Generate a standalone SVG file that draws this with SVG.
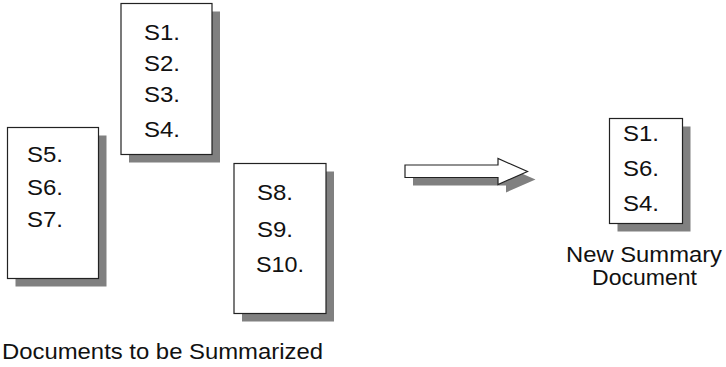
<svg xmlns="http://www.w3.org/2000/svg" width="726" height="367" viewBox="0 0 726 367">
<style>
.shadow{fill:#808080;stroke:none}
.page{fill:#fff;stroke:#222;stroke-width:1.2}
text{font-family:"Liberation Sans",Arial,sans-serif;font-size:22px;fill:#111}
</style>
<rect width="726" height="367" fill="#fff"/>
<g id="doc-s1-s4">
<rect class="shadow" x="129" y="11.5" width="91" height="151"/>
<rect class="page" x="121" y="3.5" width="91" height="151"/>
<text x="144" y="40" textLength="36" lengthAdjust="spacingAndGlyphs">S1.</text>
<text x="144" y="71" textLength="36" lengthAdjust="spacingAndGlyphs">S2.</text>
<text x="144" y="102" textLength="36" lengthAdjust="spacingAndGlyphs">S3.</text>
<text x="144" y="137" textLength="36" lengthAdjust="spacingAndGlyphs">S4.</text>
</g>
<g id="doc-s5-s7">
<rect class="shadow" x="15.5" y="135.5" width="91" height="151"/>
<rect class="page" x="7.5" y="127.5" width="91" height="151"/>
<text x="27" y="162" textLength="36" lengthAdjust="spacingAndGlyphs">S5.</text>
<text x="27" y="195" textLength="36" lengthAdjust="spacingAndGlyphs">S6.</text>
<text x="27" y="227" textLength="36" lengthAdjust="spacingAndGlyphs">S7.</text>
</g>
<g id="doc-s8-s10">
<rect class="shadow" x="242" y="171.5" width="92" height="150"/>
<rect class="page" x="234" y="163.5" width="92" height="150"/>
<text x="257" y="200" textLength="36" lengthAdjust="spacingAndGlyphs">S8.</text>
<text x="257" y="237" textLength="36" lengthAdjust="spacingAndGlyphs">S9.</text>
<text x="256" y="272" textLength="48" lengthAdjust="spacingAndGlyphs">S10.</text>
</g>
<g id="summary-doc">
<rect class="shadow" x="617.5" y="126.5" width="73" height="105"/>
<rect class="page" x="609.5" y="118.5" width="73" height="105"/>
<text x="623" y="141" textLength="36" lengthAdjust="spacingAndGlyphs">S1.</text>
<text x="623" y="176" textLength="36" lengthAdjust="spacingAndGlyphs">S6.</text>
<text x="623" y="211" textLength="36" lengthAdjust="spacingAndGlyphs">S4.</text>
</g>
<g id="connectors">
<path class="shadow" d="M413,173 H506 V166.5 L535.5,179.5 L506,192.5 V185.5 H413 Z"/>
<path class="page" d="M405,165 H498 V158.5 L527.5,171.5 L498,184.5 V177.5 H405 Z"/>
</g>
<g id="labels">
<text x="566" y="262" textLength="156" lengthAdjust="spacingAndGlyphs">New Summary</text>
<text x="592" y="285" textLength="105" lengthAdjust="spacingAndGlyphs">Document</text>
<text x="2" y="359" textLength="321" lengthAdjust="spacingAndGlyphs">Documents to be Summarized</text>
</g>
</svg>
